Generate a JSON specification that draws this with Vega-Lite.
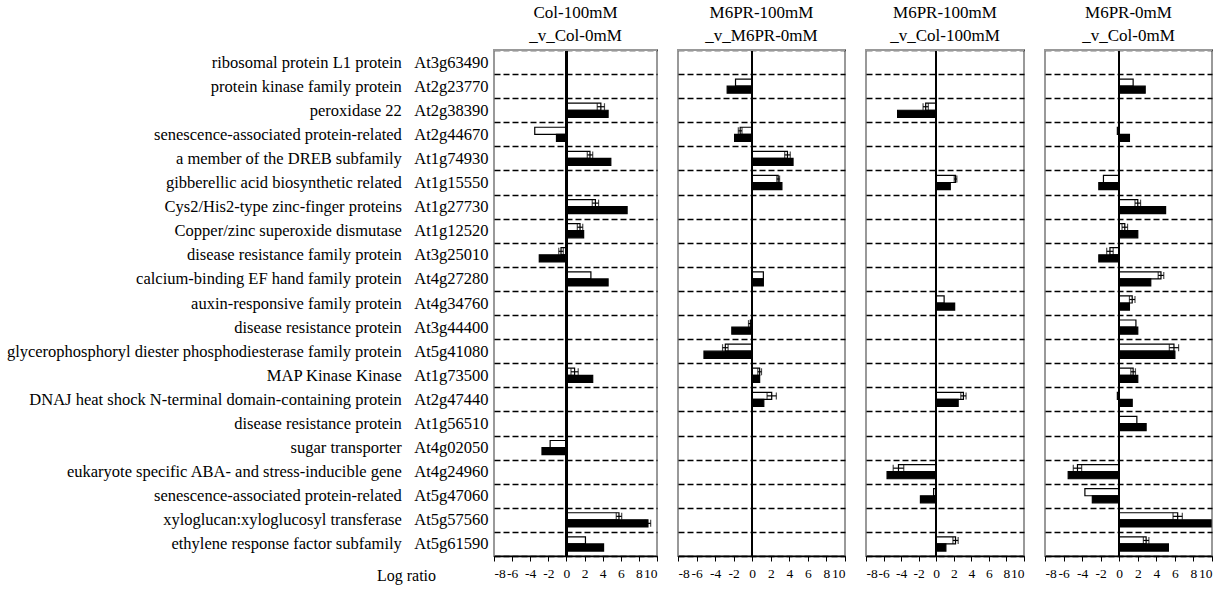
{
  "$schema": "https://vega.github.io/schema/vega-lite/v6.json",
  "background": "white",
  "padding": {"left": 5, "top": 3, "right": 5, "bottom": 5},
  "config": {
    "font": "Liberation Serif",
    "view": {"stroke": "#999999", "strokeWidth": 2},
    "title": {"font": "Liberation Serif", "fontSize": 17, "fontWeight": "normal", "lineHeight": 23, "offset": 4, "color": "black", "anchor": "middle"},
    "axis": {"labelFont": "Liberation Serif", "labelColor": "black", "titleFont": "Liberation Serif", "titleColor": "black", "titleFontWeight": "normal"},
    "axisX": {"labelFontSize": 13.5, "labelOverlap": false, "labelExpr": "'' + datum.value", "grid": false, "tickColor": "black", "tickSize": 5, "domainColor": "black", "domainWidth": 1.5, "labelPadding": 5},
    "axisY": {"ticks": false, "domain": false, "grid": true, "gridColor": "black", "gridDash": [6, 3], "gridWidth": 1.6, "tickBand": "extent", "labelFontSize": 16.5, "labelLimit": 700, "labelPadding": 6}
  },
  "datasets": {
    "d": [
      {"p": 1, "g": "peroxidase 22\u00a0\u00a0\u00a0At2g38390", "s": "a", "v": 3.8, "e": 0.4},
      {"p": 1, "g": "peroxidase 22\u00a0\u00a0\u00a0At2g38390", "s": "b", "v": 4.6, "e": 0},
      {"p": 1, "g": "senescence-associated protein-related\u00a0\u00a0\u00a0At2g44670", "s": "a", "v": -3.5, "e": 0},
      {"p": 1, "g": "senescence-associated protein-related\u00a0\u00a0\u00a0At2g44670", "s": "b", "v": -1.1, "e": 0},
      {"p": 1, "g": "a member of the DREB subfamily\u00a0\u00a0\u00a0At1g74930", "s": "a", "v": 2.6, "e": 0.3},
      {"p": 1, "g": "a member of the DREB subfamily\u00a0\u00a0\u00a0At1g74930", "s": "b", "v": 4.9, "e": 0},
      {"p": 1, "g": "Cys2/His2-type zinc-finger proteins\u00a0\u00a0\u00a0At1g27730", "s": "a", "v": 3.2, "e": 0.35},
      {"p": 1, "g": "Cys2/His2-type zinc-finger proteins\u00a0\u00a0\u00a0At1g27730", "s": "b", "v": 6.7, "e": 0},
      {"p": 1, "g": "Copper/zinc superoxide dismutase\u00a0\u00a0\u00a0At1g12520", "s": "a", "v": 1.5, "e": 0.3},
      {"p": 1, "g": "Copper/zinc superoxide dismutase\u00a0\u00a0\u00a0At1g12520", "s": "b", "v": 1.9, "e": 0},
      {"p": 1, "g": "disease resistance family protein\u00a0\u00a0\u00a0At3g25010", "s": "a", "v": -0.6, "e": 0.25},
      {"p": 1, "g": "disease resistance family protein\u00a0\u00a0\u00a0At3g25010", "s": "b", "v": -3.0, "e": 0},
      {"p": 1, "g": "calcium-binding EF hand family protein\u00a0\u00a0\u00a0At4g27280", "s": "a", "v": 2.7, "e": 0},
      {"p": 1, "g": "calcium-binding EF hand family protein\u00a0\u00a0\u00a0At4g27280", "s": "b", "v": 4.6, "e": 0},
      {"p": 1, "g": "MAP Kinase Kinase\u00a0\u00a0\u00a0At1g73500", "s": "a", "v": 0.9, "e": 0.4},
      {"p": 1, "g": "MAP Kinase Kinase\u00a0\u00a0\u00a0At1g73500", "s": "b", "v": 2.9, "e": 0},
      {"p": 1, "g": "sugar transporter\u00a0\u00a0\u00a0At4g02050", "s": "a", "v": -1.8, "e": 0},
      {"p": 1, "g": "sugar transporter\u00a0\u00a0\u00a0At4g02050", "s": "b", "v": -2.7, "e": 0},
      {"p": 1, "g": "xyloglucan:xyloglucosyl transferase\u00a0\u00a0\u00a0At5g57560", "s": "a", "v": 5.8, "e": 0.3},
      {"p": 1, "g": "xyloglucan:xyloglucosyl transferase\u00a0\u00a0\u00a0At5g57560", "s": "b", "v": 9.0, "e": 0.3},
      {"p": 1, "g": "ethylene response factor subfamily\u00a0\u00a0\u00a0At5g61590", "s": "a", "v": 2.1, "e": 0},
      {"p": 1, "g": "ethylene response factor subfamily\u00a0\u00a0\u00a0At5g61590", "s": "b", "v": 4.1, "e": 0},

      {"p": 2, "g": "protein kinase family protein\u00a0\u00a0\u00a0At2g23770", "s": "a", "v": -1.8, "e": 0},
      {"p": 2, "g": "protein kinase family protein\u00a0\u00a0\u00a0At2g23770", "s": "b", "v": -2.7, "e": 0},
      {"p": 2, "g": "senescence-associated protein-related\u00a0\u00a0\u00a0At2g44670", "s": "a", "v": -1.3, "e": 0.2},
      {"p": 2, "g": "senescence-associated protein-related\u00a0\u00a0\u00a0At2g44670", "s": "b", "v": -1.9, "e": 0},
      {"p": 2, "g": "a member of the DREB subfamily\u00a0\u00a0\u00a0At1g74930", "s": "a", "v": 3.8, "e": 0.3},
      {"p": 2, "g": "a member of the DREB subfamily\u00a0\u00a0\u00a0At1g74930", "s": "b", "v": 4.4, "e": 0},
      {"p": 2, "g": "gibberellic acid biosynthetic related\u00a0\u00a0\u00a0At1g15550", "s": "a", "v": 2.8, "e": 0.15},
      {"p": 2, "g": "gibberellic acid biosynthetic related\u00a0\u00a0\u00a0At1g15550", "s": "b", "v": 3.2, "e": 0},
      {"p": 2, "g": "calcium-binding EF hand family protein\u00a0\u00a0\u00a0At4g27280", "s": "a", "v": 1.2, "e": 0},
      {"p": 2, "g": "calcium-binding EF hand family protein\u00a0\u00a0\u00a0At4g27280", "s": "b", "v": 1.2, "e": 0},
      {"p": 2, "g": "disease resistance protein\u00a0\u00a0\u00a0At3g44400", "s": "a", "v": -0.2, "e": 0.2},
      {"p": 2, "g": "disease resistance protein\u00a0\u00a0\u00a0At3g44400", "s": "b", "v": -2.2, "e": 0},
      {"p": 2, "g": "glycerophosphoryl diester phosphodiesterase family protein\u00a0\u00a0\u00a0At5g41080", "s": "a", "v": -2.9, "e": 0.3},
      {"p": 2, "g": "glycerophosphoryl diester phosphodiesterase family protein\u00a0\u00a0\u00a0At5g41080", "s": "b", "v": -5.2, "e": 0},
      {"p": 2, "g": "MAP Kinase Kinase\u00a0\u00a0\u00a0At1g73500", "s": "a", "v": 0.8, "e": 0.2},
      {"p": 2, "g": "MAP Kinase Kinase\u00a0\u00a0\u00a0At1g73500", "s": "b", "v": 0.8, "e": 0},
      {"p": 2, "g": "DNAJ heat shock N-terminal domain-containing protein\u00a0\u00a0\u00a0At2g47440", "s": "a", "v": 2.1, "e": 0.5},
      {"p": 2, "g": "DNAJ heat shock N-terminal domain-containing protein\u00a0\u00a0\u00a0At2g47440", "s": "b", "v": 1.25, "e": 0},

      {"p": 3, "g": "peroxidase 22\u00a0\u00a0\u00a0At2g38390", "s": "a", "v": -1.2, "e": 0.3},
      {"p": 3, "g": "peroxidase 22\u00a0\u00a0\u00a0At2g38390", "s": "b", "v": -4.4, "e": 0},
      {"p": 3, "g": "gibberellic acid biosynthetic related\u00a0\u00a0\u00a0At1g15550", "s": "a", "v": 2.2, "e": 0.15},
      {"p": 3, "g": "gibberellic acid biosynthetic related\u00a0\u00a0\u00a0At1g15550", "s": "b", "v": 1.6, "e": 0},
      {"p": 3, "g": "auxin-responsive family protein\u00a0\u00a0\u00a0At4g34760", "s": "a", "v": 0.9, "e": 0},
      {"p": 3, "g": "auxin-responsive family protein\u00a0\u00a0\u00a0At4g34760", "s": "b", "v": 2.1, "e": 0},
      {"p": 3, "g": "DNAJ heat shock N-terminal domain-containing protein\u00a0\u00a0\u00a0At2g47440", "s": "a", "v": 3.1, "e": 0.3},
      {"p": 3, "g": "DNAJ heat shock N-terminal domain-containing protein\u00a0\u00a0\u00a0At2g47440", "s": "b", "v": 2.5, "e": 0},
      {"p": 3, "g": "eukaryote specific ABA- and stress-inducible gene\u00a0\u00a0\u00a0At4g24960", "s": "a", "v": -4.3, "e": 0.6},
      {"p": 3, "g": "eukaryote specific ABA- and stress-inducible gene\u00a0\u00a0\u00a0At4g24960", "s": "b", "v": -5.6, "e": 0},
      {"p": 3, "g": "senescence-associated protein-related\u00a0\u00a0\u00a0At5g47060", "s": "a", "v": -0.3, "e": 0},
      {"p": 3, "g": "senescence-associated protein-related\u00a0\u00a0\u00a0At5g47060", "s": "b", "v": -1.8, "e": 0},
      {"p": 3, "g": "ethylene response factor subfamily\u00a0\u00a0\u00a0At5g61590", "s": "a", "v": 2.2, "e": 0.3},
      {"p": 3, "g": "ethylene response factor subfamily\u00a0\u00a0\u00a0At5g61590", "s": "b", "v": 1.1, "e": 0},

      {"p": 4, "g": "protein kinase family protein\u00a0\u00a0\u00a0At2g23770", "s": "a", "v": 1.5, "e": 0},
      {"p": 4, "g": "protein kinase family protein\u00a0\u00a0\u00a0At2g23770", "s": "b", "v": 2.8, "e": 0},
      {"p": 4, "g": "senescence-associated protein-related\u00a0\u00a0\u00a0At2g44670", "s": "a", "v": -0.2, "e": 0},
      {"p": 4, "g": "senescence-associated protein-related\u00a0\u00a0\u00a0At2g44670", "s": "b", "v": 1.1, "e": 0},
      {"p": 4, "g": "gibberellic acid biosynthetic related\u00a0\u00a0\u00a0At1g15550", "s": "a", "v": -1.7, "e": 0},
      {"p": 4, "g": "gibberellic acid biosynthetic related\u00a0\u00a0\u00a0At1g15550", "s": "b", "v": -2.2, "e": 0},
      {"p": 4, "g": "Cys2/His2-type zinc-finger proteins\u00a0\u00a0\u00a0At1g27730", "s": "a", "v": 2.0, "e": 0.3},
      {"p": 4, "g": "Cys2/His2-type zinc-finger proteins\u00a0\u00a0\u00a0At1g27730", "s": "b", "v": 5.0, "e": 0},
      {"p": 4, "g": "Copper/zinc superoxide dismutase\u00a0\u00a0\u00a0At1g12520", "s": "a", "v": 0.6, "e": 0.3},
      {"p": 4, "g": "Copper/zinc superoxide dismutase\u00a0\u00a0\u00a0At1g12520", "s": "b", "v": 2.0, "e": 0},
      {"p": 4, "g": "disease resistance family protein\u00a0\u00a0\u00a0At3g25010", "s": "a", "v": -1.0, "e": 0.35},
      {"p": 4, "g": "disease resistance family protein\u00a0\u00a0\u00a0At3g25010", "s": "b", "v": -2.2, "e": 0},
      {"p": 4, "g": "calcium-binding EF hand family protein\u00a0\u00a0\u00a0At4g27280", "s": "a", "v": 4.5, "e": 0.3},
      {"p": 4, "g": "calcium-binding EF hand family protein\u00a0\u00a0\u00a0At4g27280", "s": "b", "v": 3.4, "e": 0},
      {"p": 4, "g": "auxin-responsive family protein\u00a0\u00a0\u00a0At4g34760", "s": "a", "v": 1.4, "e": 0.3},
      {"p": 4, "g": "auxin-responsive family protein\u00a0\u00a0\u00a0At4g34760", "s": "b", "v": 1.1, "e": 0},
      {"p": 4, "g": "disease resistance protein\u00a0\u00a0\u00a0At3g44400", "s": "a", "v": 1.8, "e": 0},
      {"p": 4, "g": "disease resistance protein\u00a0\u00a0\u00a0At3g44400", "s": "b", "v": 2.0, "e": 0},
      {"p": 4, "g": "glycerophosphoryl diester phosphodiesterase family protein\u00a0\u00a0\u00a0At5g41080", "s": "a", "v": 5.9, "e": 0.5},
      {"p": 4, "g": "glycerophosphoryl diester phosphodiesterase family protein\u00a0\u00a0\u00a0At5g41080", "s": "b", "v": 6.0, "e": 0},
      {"p": 4, "g": "MAP Kinase Kinase\u00a0\u00a0\u00a0At1g73500", "s": "a", "v": 1.5, "e": 0.25},
      {"p": 4, "g": "MAP Kinase Kinase\u00a0\u00a0\u00a0At1g73500", "s": "b", "v": 2.0, "e": 0},
      {"p": 4, "g": "DNAJ heat shock N-terminal domain-containing protein\u00a0\u00a0\u00a0At2g47440", "s": "a", "v": -0.2, "e": 0},
      {"p": 4, "g": "DNAJ heat shock N-terminal domain-containing protein\u00a0\u00a0\u00a0At2g47440", "s": "b", "v": 1.4, "e": 0},
      {"p": 4, "g": "disease resistance protein\u00a0\u00a0\u00a0At1g56510", "s": "a", "v": 1.9, "e": 0},
      {"p": 4, "g": "disease resistance protein\u00a0\u00a0\u00a0At1g56510", "s": "b", "v": 2.9, "e": 0},
      {"p": 4, "g": "eukaryote specific ABA- and stress-inducible gene\u00a0\u00a0\u00a0At4g24960", "s": "a", "v": -4.5, "e": 0.45},
      {"p": 4, "g": "eukaryote specific ABA- and stress-inducible gene\u00a0\u00a0\u00a0At4g24960", "s": "b", "v": -5.5, "e": 0},
      {"p": 4, "g": "senescence-associated protein-related\u00a0\u00a0\u00a0At5g47060", "s": "a", "v": -3.7, "e": 0},
      {"p": 4, "g": "senescence-associated protein-related\u00a0\u00a0\u00a0At5g47060", "s": "b", "v": -2.9, "e": 0},
      {"p": 4, "g": "xyloglucan:xyloglucosyl transferase\u00a0\u00a0\u00a0At5g57560", "s": "a", "v": 6.3, "e": 0.5},
      {"p": 4, "g": "xyloglucan:xyloglucosyl transferase\u00a0\u00a0\u00a0At5g57560", "s": "b", "v": 9.9, "e": 0},
      {"p": 4, "g": "ethylene response factor subfamily\u00a0\u00a0\u00a0At5g61590", "s": "a", "v": 2.9, "e": 0.3},
      {"p": 4, "g": "ethylene response factor subfamily\u00a0\u00a0\u00a0At5g61590", "s": "b", "v": 5.3, "e": 0}
    ]
  },
  "spacing": 17,
  "hconcat": [
    {
      "width": 163, "height": 506,
      "title": {"text": ["Col-100mM", "_v_Col-0mM"], "dy": 7},
      "data": {"name": "d"},
      "transform": [{"filter": "datum.p === 1"}, {"calculate": "datum.v - datum.e", "as": "lo"}, {"calculate": "datum.v + datum.e", "as": "hi"}],
      "encoding": {
        "y": {"field": "g", "type": "nominal", "sort": null,
          "scale": {"domain": ["ribosomal protein L1 protein\u00a0\u00a0\u00a0At3g63490", "protein kinase family protein\u00a0\u00a0\u00a0At2g23770", "peroxidase 22\u00a0\u00a0\u00a0At2g38390", "senescence-associated protein-related\u00a0\u00a0\u00a0At2g44670", "a member of the DREB subfamily\u00a0\u00a0\u00a0At1g74930", "gibberellic acid biosynthetic related\u00a0\u00a0\u00a0At1g15550", "Cys2/His2-type zinc-finger proteins\u00a0\u00a0\u00a0At1g27730", "Copper/zinc superoxide dismutase\u00a0\u00a0\u00a0At1g12520", "disease resistance family protein\u00a0\u00a0\u00a0At3g25010", "calcium-binding EF hand family protein\u00a0\u00a0\u00a0At4g27280", "auxin-responsive family protein\u00a0\u00a0\u00a0At4g34760", "disease resistance protein\u00a0\u00a0\u00a0At3g44400", "glycerophosphoryl diester phosphodiesterase family protein\u00a0\u00a0\u00a0At5g41080", "MAP Kinase Kinase\u00a0\u00a0\u00a0At1g73500", "DNAJ heat shock N-terminal domain-containing protein\u00a0\u00a0\u00a0At2g47440", "disease resistance protein\u00a0\u00a0\u00a0At1g56510", "sugar transporter\u00a0\u00a0\u00a0At4g02050", "eukaryote specific ABA- and stress-inducible gene\u00a0\u00a0\u00a0At4g24960", "senescence-associated protein-related\u00a0\u00a0\u00a0At5g47060", "xyloglucan:xyloglucosyl transferase\u00a0\u00a0\u00a0At5g57560", "ethylene response factor subfamily\u00a0\u00a0\u00a0At5g61590"], "paddingInner": 0, "paddingOuter": 0},
          "axis": {"title": null}},
        "x": {"field": "v", "type": "quantitative", "scale": {"domain": [-8, 10], "nice": false},
          "axis": {"values": [-8, -6, -4, -2, 0, 2, 4, 6, 8, 10], "title": "Log ratio", "titleFontSize": 16, "titleX": -88, "titleY": 19, "titleAlign": "center", "titleBaseline": "middle"}}
      },
      "layer": [
        {"mark": {"type": "bar", "stroke": "black", "strokeWidth": 1.2},
         "encoding": {
           "yOffset": {"field": "s", "type": "nominal", "scale": {"domain": ["a", "b"], "paddingInner": 0, "paddingOuter": 0.7}},
           "fill": {"field": "s", "type": "nominal", "scale": {"domain": ["a", "b"], "range": ["white", "black"]}, "legend": null}}},
        {"transform": [{"filter": "datum.e > 0 && datum.s === 'a'"}],
         "mark": {"type": "rule", "color": "black", "strokeWidth": 1.2, "yOffset": -3.5},
         "encoding": {"x": {"field": "lo", "type": "quantitative"}, "x2": {"field": "hi"}}},
        {"transform": [{"filter": "datum.e > 0 && datum.s === 'b'"}],
         "mark": {"type": "rule", "color": "black", "strokeWidth": 1.2, "yOffset": 3.5},
         "encoding": {"x": {"field": "lo", "type": "quantitative"}, "x2": {"field": "hi"}}},
        {"transform": [{"filter": "datum.e > 0 && datum.s === 'a'"}, {"fold": ["lo", "hi"], "as": ["k", "xv"]}],
         "mark": {"type": "tick", "color": "black", "size": 7, "thickness": 1.2, "yOffset": -3.5},
         "encoding": {"x": {"field": "xv", "type": "quantitative"}}},
        {"transform": [{"filter": "datum.e > 0 && datum.s === 'b'"}, {"fold": ["lo", "hi"], "as": ["k", "xv"]}],
         "mark": {"type": "tick", "color": "black", "size": 7, "thickness": 1.2, "yOffset": 3.5},
         "encoding": {"x": {"field": "xv", "type": "quantitative"}}},
        {"mark": {"type": "rule", "color": "black", "strokeWidth": 1.5},
         "encoding": {"x": {"datum": 0}, "y": null}},
        {"mark": {"type": "rule", "color": "#999999", "strokeWidth": 2},
         "encoding": {"y": {"datum": "ribosomal protein L1 protein\u00a0\u00a0\u00a0At3g63490", "bandPosition": 0}, "x": null}}
      ]
    },
    {
      "width": 167, "height": 506,
      "title": {"text": ["M6PR-100mM", "_v_M6PR-0mM"]},
      "data": {"name": "d"},
      "transform": [{"filter": "datum.p === 2"}, {"calculate": "datum.v - datum.e", "as": "lo"}, {"calculate": "datum.v + datum.e", "as": "hi"}],
      "encoding": {
        "y": {"field": "g", "type": "nominal", "sort": null,
          "scale": {"domain": ["ribosomal protein L1 protein\u00a0\u00a0\u00a0At3g63490", "protein kinase family protein\u00a0\u00a0\u00a0At2g23770", "peroxidase 22\u00a0\u00a0\u00a0At2g38390", "senescence-associated protein-related\u00a0\u00a0\u00a0At2g44670", "a member of the DREB subfamily\u00a0\u00a0\u00a0At1g74930", "gibberellic acid biosynthetic related\u00a0\u00a0\u00a0At1g15550", "Cys2/His2-type zinc-finger proteins\u00a0\u00a0\u00a0At1g27730", "Copper/zinc superoxide dismutase\u00a0\u00a0\u00a0At1g12520", "disease resistance family protein\u00a0\u00a0\u00a0At3g25010", "calcium-binding EF hand family protein\u00a0\u00a0\u00a0At4g27280", "auxin-responsive family protein\u00a0\u00a0\u00a0At4g34760", "disease resistance protein\u00a0\u00a0\u00a0At3g44400", "glycerophosphoryl diester phosphodiesterase family protein\u00a0\u00a0\u00a0At5g41080", "MAP Kinase Kinase\u00a0\u00a0\u00a0At1g73500", "DNAJ heat shock N-terminal domain-containing protein\u00a0\u00a0\u00a0At2g47440", "disease resistance protein\u00a0\u00a0\u00a0At1g56510", "sugar transporter\u00a0\u00a0\u00a0At4g02050", "eukaryote specific ABA- and stress-inducible gene\u00a0\u00a0\u00a0At4g24960", "senescence-associated protein-related\u00a0\u00a0\u00a0At5g47060", "xyloglucan:xyloglucosyl transferase\u00a0\u00a0\u00a0At5g57560", "ethylene response factor subfamily\u00a0\u00a0\u00a0At5g61590"], "paddingInner": 0, "paddingOuter": 0},
          "axis": {"title": null, "labels": false}},
        "x": {"field": "v", "type": "quantitative", "scale": {"domain": [-8, 10], "nice": false},
          "axis": {"values": [-8, -6, -4, -2, 0, 2, 4, 6, 8, 10], "title": null}}
      },
      "layer": [
        {"mark": {"type": "bar", "stroke": "black", "strokeWidth": 1.2},
         "encoding": {
           "yOffset": {"field": "s", "type": "nominal", "scale": {"domain": ["a", "b"], "paddingInner": 0, "paddingOuter": 0.7}},
           "fill": {"field": "s", "type": "nominal", "scale": {"domain": ["a", "b"], "range": ["white", "black"]}, "legend": null}}},
        {"transform": [{"filter": "datum.e > 0 && datum.s === 'a'"}],
         "mark": {"type": "rule", "color": "black", "strokeWidth": 1.2, "yOffset": -3.5},
         "encoding": {"x": {"field": "lo", "type": "quantitative"}, "x2": {"field": "hi"}}},
        {"transform": [{"filter": "datum.e > 0 && datum.s === 'a'"}, {"fold": ["lo", "hi"], "as": ["k", "xv"]}],
         "mark": {"type": "tick", "color": "black", "size": 7, "thickness": 1.2, "yOffset": -3.5},
         "encoding": {"x": {"field": "xv", "type": "quantitative"}}},
        {"mark": {"type": "rule", "color": "black", "strokeWidth": 1.5},
         "encoding": {"x": {"datum": 0}, "y": null}},
        {"mark": {"type": "rule", "color": "#999999", "strokeWidth": 2},
         "encoding": {"y": {"datum": "ribosomal protein L1 protein\u00a0\u00a0\u00a0At3g63490", "bandPosition": 0}, "x": null}}
      ]
    },
    {
      "width": 158, "height": 506,
      "title": {"text": ["M6PR-100mM", "_v_Col-100mM"]},
      "data": {"name": "d"},
      "transform": [{"filter": "datum.p === 3"}, {"calculate": "datum.v - datum.e", "as": "lo"}, {"calculate": "datum.v + datum.e", "as": "hi"}],
      "encoding": {
        "y": {"field": "g", "type": "nominal", "sort": null,
          "scale": {"domain": ["ribosomal protein L1 protein\u00a0\u00a0\u00a0At3g63490", "protein kinase family protein\u00a0\u00a0\u00a0At2g23770", "peroxidase 22\u00a0\u00a0\u00a0At2g38390", "senescence-associated protein-related\u00a0\u00a0\u00a0At2g44670", "a member of the DREB subfamily\u00a0\u00a0\u00a0At1g74930", "gibberellic acid biosynthetic related\u00a0\u00a0\u00a0At1g15550", "Cys2/His2-type zinc-finger proteins\u00a0\u00a0\u00a0At1g27730", "Copper/zinc superoxide dismutase\u00a0\u00a0\u00a0At1g12520", "disease resistance family protein\u00a0\u00a0\u00a0At3g25010", "calcium-binding EF hand family protein\u00a0\u00a0\u00a0At4g27280", "auxin-responsive family protein\u00a0\u00a0\u00a0At4g34760", "disease resistance protein\u00a0\u00a0\u00a0At3g44400", "glycerophosphoryl diester phosphodiesterase family protein\u00a0\u00a0\u00a0At5g41080", "MAP Kinase Kinase\u00a0\u00a0\u00a0At1g73500", "DNAJ heat shock N-terminal domain-containing protein\u00a0\u00a0\u00a0At2g47440", "disease resistance protein\u00a0\u00a0\u00a0At1g56510", "sugar transporter\u00a0\u00a0\u00a0At4g02050", "eukaryote specific ABA- and stress-inducible gene\u00a0\u00a0\u00a0At4g24960", "senescence-associated protein-related\u00a0\u00a0\u00a0At5g47060", "xyloglucan:xyloglucosyl transferase\u00a0\u00a0\u00a0At5g57560", "ethylene response factor subfamily\u00a0\u00a0\u00a0At5g61590"], "paddingInner": 0, "paddingOuter": 0},
          "axis": {"title": null, "labels": false}},
        "x": {"field": "v", "type": "quantitative", "scale": {"domain": [-8, 10], "nice": false},
          "axis": {"values": [-8, -6, -4, -2, 0, 2, 4, 6, 8, 10], "title": null}}
      },
      "layer": [
        {"mark": {"type": "bar", "stroke": "black", "strokeWidth": 1.2},
         "encoding": {
           "yOffset": {"field": "s", "type": "nominal", "scale": {"domain": ["a", "b"], "paddingInner": 0, "paddingOuter": 0.7}},
           "fill": {"field": "s", "type": "nominal", "scale": {"domain": ["a", "b"], "range": ["white", "black"]}, "legend": null}}},
        {"transform": [{"filter": "datum.e > 0 && datum.s === 'a'"}],
         "mark": {"type": "rule", "color": "black", "strokeWidth": 1.2, "yOffset": -3.5},
         "encoding": {"x": {"field": "lo", "type": "quantitative"}, "x2": {"field": "hi"}}},
        {"transform": [{"filter": "datum.e > 0 && datum.s === 'a'"}, {"fold": ["lo", "hi"], "as": ["k", "xv"]}],
         "mark": {"type": "tick", "color": "black", "size": 7, "thickness": 1.2, "yOffset": -3.5},
         "encoding": {"x": {"field": "xv", "type": "quantitative"}}},
        {"mark": {"type": "rule", "color": "black", "strokeWidth": 1.5},
         "encoding": {"x": {"datum": 0}, "y": null}},
        {"mark": {"type": "rule", "color": "#999999", "strokeWidth": 2},
         "encoding": {"y": {"datum": "ribosomal protein L1 protein\u00a0\u00a0\u00a0At3g63490", "bandPosition": 0}, "x": null}}
      ]
    },
    {
      "width": 167, "height": 506,
      "title": {"text": ["M6PR-0mM", "_v_Col-0mM"]},
      "data": {"name": "d"},
      "transform": [{"filter": "datum.p === 4"}, {"calculate": "datum.v - datum.e", "as": "lo"}, {"calculate": "datum.v + datum.e", "as": "hi"}],
      "encoding": {
        "y": {"field": "g", "type": "nominal", "sort": null,
          "scale": {"domain": ["ribosomal protein L1 protein\u00a0\u00a0\u00a0At3g63490", "protein kinase family protein\u00a0\u00a0\u00a0At2g23770", "peroxidase 22\u00a0\u00a0\u00a0At2g38390", "senescence-associated protein-related\u00a0\u00a0\u00a0At2g44670", "a member of the DREB subfamily\u00a0\u00a0\u00a0At1g74930", "gibberellic acid biosynthetic related\u00a0\u00a0\u00a0At1g15550", "Cys2/His2-type zinc-finger proteins\u00a0\u00a0\u00a0At1g27730", "Copper/zinc superoxide dismutase\u00a0\u00a0\u00a0At1g12520", "disease resistance family protein\u00a0\u00a0\u00a0At3g25010", "calcium-binding EF hand family protein\u00a0\u00a0\u00a0At4g27280", "auxin-responsive family protein\u00a0\u00a0\u00a0At4g34760", "disease resistance protein\u00a0\u00a0\u00a0At3g44400", "glycerophosphoryl diester phosphodiesterase family protein\u00a0\u00a0\u00a0At5g41080", "MAP Kinase Kinase\u00a0\u00a0\u00a0At1g73500", "DNAJ heat shock N-terminal domain-containing protein\u00a0\u00a0\u00a0At2g47440", "disease resistance protein\u00a0\u00a0\u00a0At1g56510", "sugar transporter\u00a0\u00a0\u00a0At4g02050", "eukaryote specific ABA- and stress-inducible gene\u00a0\u00a0\u00a0At4g24960", "senescence-associated protein-related\u00a0\u00a0\u00a0At5g47060", "xyloglucan:xyloglucosyl transferase\u00a0\u00a0\u00a0At5g57560", "ethylene response factor subfamily\u00a0\u00a0\u00a0At5g61590"], "paddingInner": 0, "paddingOuter": 0},
          "axis": {"title": null, "labels": false}},
        "x": {"field": "v", "type": "quantitative", "scale": {"domain": [-8, 10], "nice": false},
          "axis": {"values": [-8, -6, -4, -2, 0, 2, 4, 6, 8, 10], "title": null}}
      },
      "layer": [
        {"mark": {"type": "bar", "stroke": "black", "strokeWidth": 1.2},
         "encoding": {
           "yOffset": {"field": "s", "type": "nominal", "scale": {"domain": ["a", "b"], "paddingInner": 0, "paddingOuter": 0.7}},
           "fill": {"field": "s", "type": "nominal", "scale": {"domain": ["a", "b"], "range": ["white", "black"]}, "legend": null}}},
        {"transform": [{"filter": "datum.e > 0 && datum.s === 'a'"}],
         "mark": {"type": "rule", "color": "black", "strokeWidth": 1.2, "yOffset": -3.5},
         "encoding": {"x": {"field": "lo", "type": "quantitative"}, "x2": {"field": "hi"}}},
        {"transform": [{"filter": "datum.e > 0 && datum.s === 'a'"}, {"fold": ["lo", "hi"], "as": ["k", "xv"]}],
         "mark": {"type": "tick", "color": "black", "size": 7, "thickness": 1.2, "yOffset": -3.5},
         "encoding": {"x": {"field": "xv", "type": "quantitative"}}},
        {"mark": {"type": "rule", "color": "black", "strokeWidth": 1.5},
         "encoding": {"x": {"datum": 0}, "y": null}},
        {"mark": {"type": "rule", "color": "#999999", "strokeWidth": 2},
         "encoding": {"y": {"datum": "ribosomal protein L1 protein\u00a0\u00a0\u00a0At3g63490", "bandPosition": 0}, "x": null}}
      ]
    }
  ]
}
